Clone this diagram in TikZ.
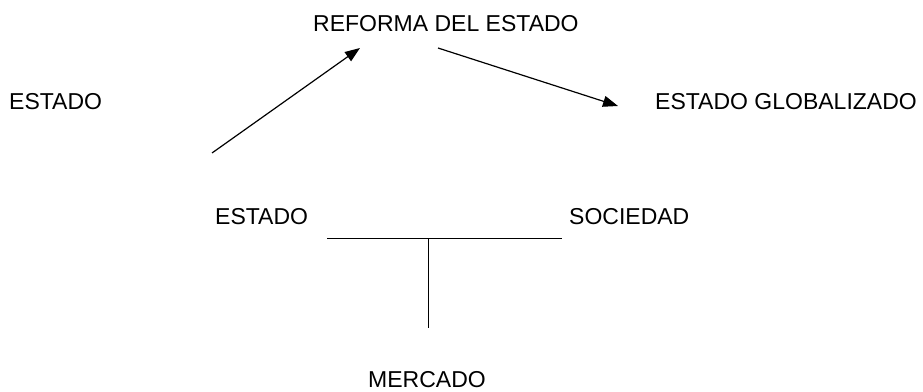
\documentclass[tikz,border=0pt]{standalone}
\usepackage{fontspec}
\setmainfont{Liberation Sans}
\usetikzlibrary{arrows.meta}
\begin{document}
\begin{tikzpicture}[x=1pt,y=-1pt,
  lbl/.style={anchor=base west,inner sep=0pt,font=\fontsize{23}{27}\selectfont},
  conn/.style={line width=1.2pt},
  arr/.style={conn,-{Triangle[length=15pt,width=11pt]}},
  thin/.style={line width=0.9pt}]
\useasboundingbox[fill=white] (0,0) rectangle (923,391);
\node[lbl] (reforma) at (313,31.5) {REFORMA DEL ESTADO};
\node[lbl] (estado1) at (9,109) {ESTADO};
\node[lbl] (global) at (655,109) {ESTADO GLOBALIZADO};
\node[lbl] (estado2) at (215,224) {ESTADO};
\node[lbl] (sociedad) at (569,224) {SOCIEDAD};
\node[lbl] (mercado) at (368,387) {MERCADO};
\coordinate (a1s) at (212,153);
\coordinate (a1e) at (360,48);
\coordinate (a2s) at (438,48);
\coordinate (a2e) at (618,106);
\coordinate (hl) at (327,238);
\coordinate (hr) at (562,238);
\coordinate (vt) at (428,238);
\coordinate (vb) at (428,328);
\draw[arr] (a1s) -- (a1e);
\draw[arr] (a2s) -- (a2e);
\draw[thin] (hl) -- (hr);
\draw[thin] (vt) -- (vb);
\end{tikzpicture}
\end{document}
